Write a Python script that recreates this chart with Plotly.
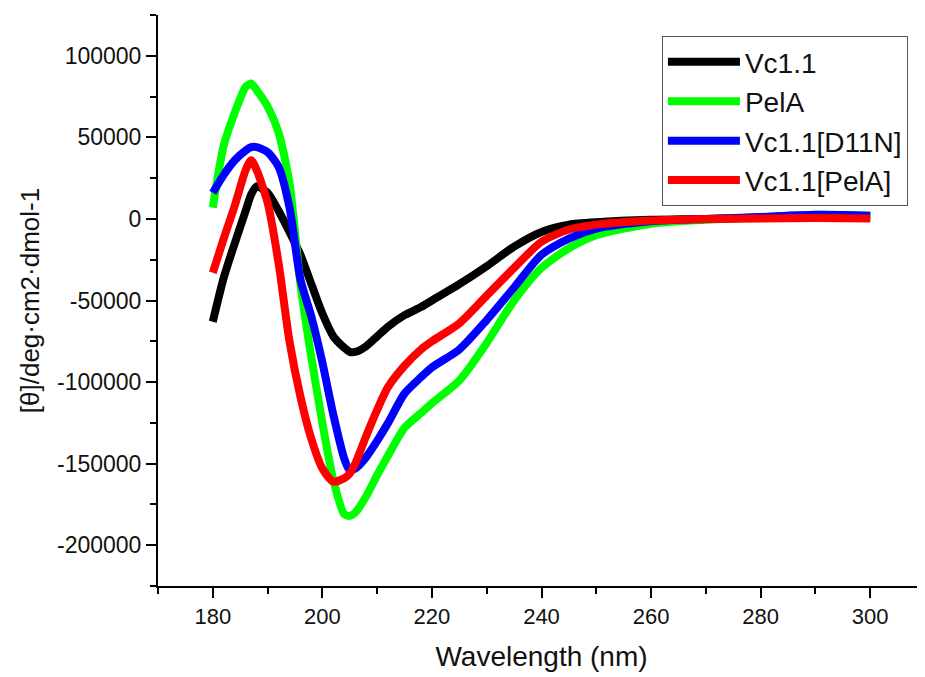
import plotly.graph_objects as go

wavelength = [180, 182, 184, 186, 187, 188, 190, 192, 194, 196, 198, 200, 202, 204, 205, 206,
              208, 210, 212, 215, 218, 220, 225, 230, 235, 240, 245, 250, 260, 270, 280, 290, 300]

vc11 = [-63000, -36000, -15000, 5000, 15000, 20000, 16000, 5000, -8000, -22000, -40000, -58000,
        -72000, -79000, -81500, -81500, -78000, -72000, -66000, -59000, -54000, -50000, -40000,
        -29000, -17000, -8000, -3500, -2000, -500, 0, 800, 1500, 1500]

pela = [7000, 45000, 65000, 81000, 83000, 79000, 69000, 53000, 22000, -40000, -85000, -125000,
        -160000, -181000, -182000, -180000, -170000, -157000, -145000, -128000, -119000, -113000,
        -99000, -76000, -50000, -30000, -18000, -10000, -3000, -500, 1000, 2500, 2000]

d11n = [16000, 27000, 36000, 42000, 44000, 44000, 41000, 32000, 7000, -37000, -60000, -88000,
        -120000, -147000, -154000, -153000, -146000, -136000, -125000, -107000, -97000, -91000,
        -80000, -62000, -42000, -22000, -12000, -6000, -1500, 0, 1200, 2500, 2000]

vc_pela = [-33000, -12000, 8000, 30000, 36000, 30000, 10000, -27000, -75000, -109000, -135000,
           -153000, -161000, -159000, -156000, -150000, -133000, -117000, -103000, -90000, -80000,
           -75000, -64000, -47000, -30000, -14000, -6500, -3500, -1000, 0, 300, 500, 300]

series = [("Vc1.1", vc11, "#000000"),
          ("PelA", pela, "#00ff00"),
          ("Vc1.1[D11N]", d11n, "#0000ff"),
          ("Vc1.1[PelA]", vc_pela, "#ff0000")]

fig = go.Figure()
for name, vals, col in series:
    fig.add_trace(go.Scatter(x=wavelength, y=vals, name=name, mode="lines",
                             line=dict(color=col, width=8, shape="spline", smoothing=0.7)))

fig.update_layout(
    width=917, height=669,
    margin=dict(l=150, r=0, t=7, b=91),
    paper_bgcolor="white", plot_bgcolor="white",
    font=dict(family="Liberation Sans, Arial, sans-serif", color="#111111"),
    showlegend=True,
    legend=dict(x=0.657, y=0.963, xanchor="left", yanchor="top",
                bordercolor="#555555", borderwidth=1, bgcolor="white",
                font=dict(size=28), itemwidth=72, tracegroupgap=0,
                traceorder="normal"),
    xaxis=dict(range=[170, 310], tickvals=[180, 200, 220, 240, 260, 280, 300],
               automargin=False,
               ticks="outside", ticklen=10, tickwidth=2, tickcolor="black",
               showline=True, linecolor="black", linewidth=2, showgrid=False, zeroline=False,
               minor=dict(dtick=10, tick0=170, ticks="outside", ticklen=6, tickwidth=2, tickcolor="black"),
               tickfont=dict(size=22),
               title=dict(text="Wavelength (nm)", font=dict(size=28), standoff=18)),
    yaxis=dict(range=[-225000, 125000], tickvals=[-200000, -150000, -100000, -50000, 0, 50000, 100000],
               ticktext=["-200000", "-150000", "-100000", "-50000", "0", "50000", "100000"],
               automargin=False,
               ticks="outside", ticklen=10, tickwidth=2, tickcolor="black",
               showline=True, linecolor="black", linewidth=2, showgrid=False, zeroline=False,
               minor=dict(dtick=25000, tick0=0, ticks="outside", ticklen=6, tickwidth=2, tickcolor="black"),
               tickfont=dict(size=23),
               title=dict(text="[θ]/deg·cm2·dmol-1", font=dict(size=26), standoff=10)),
)

fig.write_html("out.html")
